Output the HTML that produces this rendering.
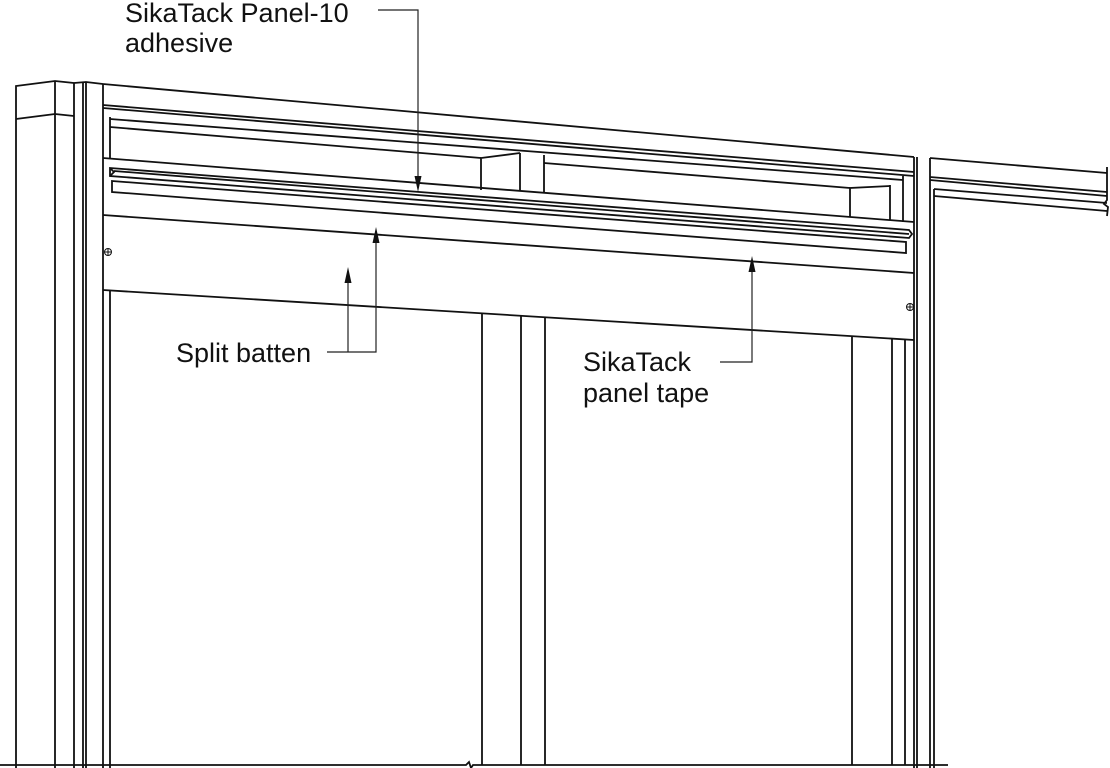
<!DOCTYPE html>
<html><head><meta charset="utf-8"><style>
html,body{margin:0;padding:0;background:#fff;}
svg{display:block;}
text{font-family:"Liberation Sans",Arial,sans-serif;font-size:27px;fill:#111;}
</style></head><body>
<svg width="1110" height="768" viewBox="0 0 1110 768" xmlns="http://www.w3.org/2000/svg">
<g stroke="#111" stroke-width="1.8" fill="none">
<polyline points="16,768 16,86 55,81 74,83 86,82 103,84"/>
<line x1="55" y1="81" x2="55" y2="768"/>
<line x1="74" y1="83" x2="74" y2="768"/>
<line x1="83" y1="82" x2="83" y2="768"/>
<line x1="86" y1="82" x2="86" y2="768"/>
<line x1="103" y1="84" x2="103" y2="768"/>
<polyline points="16,119 55,114 74,116"/>
<line x1="110" y1="117" x2="110" y2="158"/>
<line x1="110" y1="290" x2="110" y2="768"/>
<line x1="103" y1="84" x2="914" y2="157"/>
<line x1="930" y1="158" x2="1107" y2="173"/>
<line x1="103" y1="105" x2="914" y2="172"/>
<line x1="103" y1="108" x2="914" y2="176"/>
<line x1="930" y1="177" x2="1107" y2="192"/>
<line x1="930" y1="180" x2="1107" y2="196"/>
<line x1="934" y1="189" x2="1107" y2="203"/>
<line x1="934" y1="196" x2="1107" y2="211"/>
<path d="M1107,167 L1107,200 L1104,204 L1108,207 L1107,216"/>
<line x1="110" y1="119" x2="903" y2="180"/>
<line x1="110" y1="127" x2="481" y2="158"/>
<line x1="544" y1="163" x2="850" y2="188"/>
<polyline points="481,190 481,158 520,153"/>
<line x1="520" y1="153" x2="520" y2="191"/>
<line x1="544" y1="155" x2="544" y2="193"/>
<polyline points="850,217 850,188 890,186"/>
<line x1="890" y1="185" x2="890" y2="220"/>
<line x1="903" y1="176" x2="903" y2="222"/>
<line x1="914" y1="157" x2="914" y2="768"/>
<line x1="917" y1="157" x2="917" y2="768"/>
<line x1="930" y1="158" x2="930" y2="768"/>
<line x1="934" y1="189" x2="934" y2="768"/>
<line x1="103" y1="158" x2="914" y2="222"/>
<path d="M110,168 L909,230 L912,234 L909,238 L110,176 Z"/>
<line x1="114" y1="171" x2="909" y2="234"/>
<path d="M110,168 L114,172 L110,176"/>
<path d="M112,181 L906,242 L906,253 L112,192 Z"/>
<line x1="103" y1="215" x2="914" y2="273"/>
<line x1="103" y1="290" x2="914" y2="340"/>
<line x1="482" y1="314" x2="482" y2="765"/>
<line x1="521" y1="316" x2="521" y2="765"/>
<line x1="545" y1="318" x2="545" y2="765"/>
<line x1="852" y1="336" x2="852" y2="765"/>
<line x1="892" y1="338" x2="892" y2="765"/>
<line x1="905" y1="339" x2="905" y2="765"/>
<path d="M0,765 L466,765 L469,762 L471,768 L473,765 L948,765"/>
</g>
<g stroke="#111" stroke-width="1" fill="none">
<circle cx="108" cy="252" r="3.5"/><line x1="104.5" y1="252" x2="111.5" y2="252"/><line x1="108" y1="248.5" x2="108" y2="255.5"/>
<circle cx="910" cy="307" r="3.5"/><line x1="906.5" y1="307" x2="913.5" y2="307"/><line x1="910" y1="303.5" x2="910" y2="310.5"/>
</g>
<g stroke="#222" stroke-width="1.2" fill="none">
<polyline points="378,10 418,10 418,178"/>
<polyline points="327,352 376,352 376,240"/>
<line x1="348" y1="352" x2="348" y2="282"/>
<polyline points="720,362 752,362 752,270"/>
</g>
<g fill="#111">
<polygon points="418,192 414.5,176 421.5,176"/>
<polygon points="376,227 372.5,243 379.5,243"/>
<polygon points="348,267 344.5,283 351.5,283"/>
<polygon points="752,256 748.5,272 755.5,272"/>
</g>
<text x="125" y="22">SikaTack Panel-10</text>
<text x="125" y="52">adhesive</text>
<text x="176" y="362">Split batten</text>
<text x="583" y="371">SikaTack</text>
<text x="583" y="402">panel tape</text>
</svg>
</body></html>
